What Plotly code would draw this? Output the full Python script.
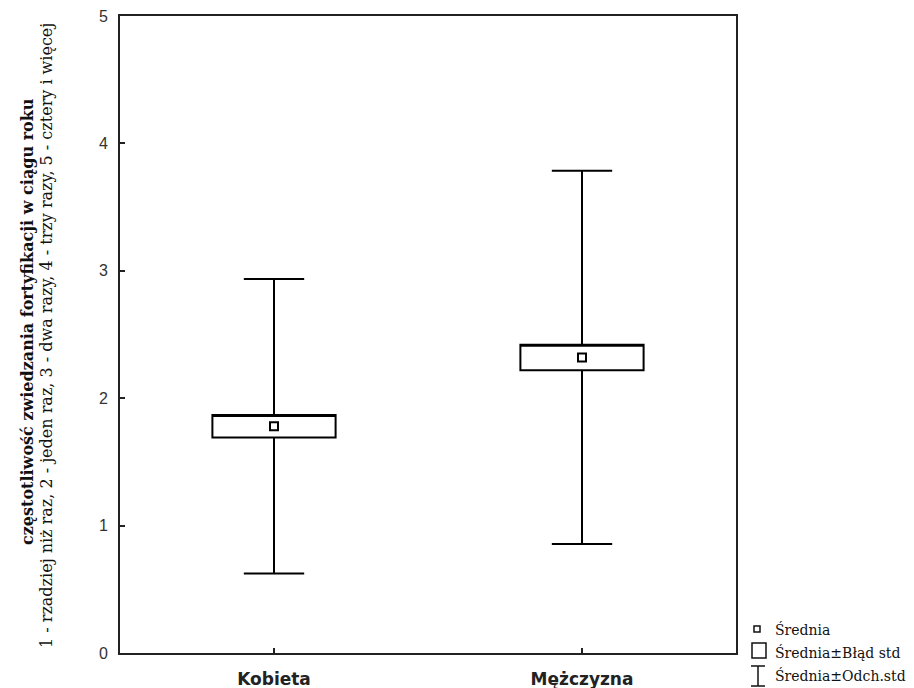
import plotly.graph_objects as go

categories = ["Kobieta", "Mężczyzna"]
means = [1.78, 2.32]
std_err = [0.088, 0.10]
std_dev = [1.155, 1.465]
y_ticks = [0, 1, 2, 3, 4, 5]

title_main = "częstotliwość zwiedzania fortyfikacji w ciągu roku"
title_sub = "1 - rzadziej niż raz, 2 - jeden raz, 3 - dwa razy, 4 - trzy razy, 5 - cztery i więcej"
legend_labels = ["Średnia", "Średnia±Błąd std", "Średnia±Odch.std"]

# page offset (browser body margin)
OFF = 8
W, H = 914 - OFF, 688 - OFF
# plot area in screen pixels
L, R, T, B = 120, 736, 16, 653


def px(x):
    return (x - L) / (R - L)


def py(y):
    return (B - y) / (B - T)


q1 = [m - s for m, s in zip(means, std_err)]
q3 = [m + s for m, s in zip(means, std_err)]
lo = [m - d for m, d in zip(means, std_dev)]
hi = [m + d for m, d in zip(means, std_dev)]

fig = go.Figure()
fig.add_trace(go.Box(
    x=categories, q1=q1, median=q3, q3=q3, lowerfence=lo, upperfence=hi,
    width=0.4, whiskerwidth=0.49, fillcolor="white",
    line=dict(color="black", width=2), boxpoints=False,
    hoverinfo="skip", showlegend=False,
))
fig.add_trace(go.Scatter(
    x=categories, y=means, mode="markers",
    marker=dict(symbol="square-open", size=8, color="black", line=dict(width=2)),
    hoverinfo="skip", showlegend=False,
))

fig.update_layout(
    width=W, height=H,
    margin=dict(l=L - OFF, r=W - (R - OFF), t=T - OFF, b=H - (B - OFF),
                autoexpand=False),
    plot_bgcolor="white", paper_bgcolor="white",
    showlegend=False,
)
fig.update_xaxes(
    type="category", range=[-0.5, 1.5], showgrid=False, automargin=False,
    showline=True, linecolor="#222", linewidth=2, mirror=True,
    ticks="inside", ticklen=5, tickcolor="#222", tickwidth=1.5,
    tickfont=dict(family="DejaVu Sans", size=17, color="#222"),
    ticklabelstandoff=10, ticklabeloverflow="allow",
    tickvals=categories, ticktext=[f"<b>{c}</b>" for c in categories],
)
fig.update_yaxes(
    range=[0, 5], showgrid=False, zeroline=False, automargin=False,
    showline=True, linecolor="#222", linewidth=2, mirror=True,
    ticks="inside", ticklen=5, tickcolor="#222", tickwidth=1.5,
    tickvals=y_ticks,
    tickfont=dict(family="Liberation Sans", size=16, color="#333"),
    ticklabelstandoff=7, ticklabeloverflow="allow",
)

# Y-axis title (two lines)
fig.add_annotation(
    text=f"<b>{title_main}</b>", textangle=-90, xref="paper", yref="paper",
    x=px(27), y=py(322), xanchor="center", yanchor="middle", showarrow=False,
    font=dict(family="DejaVu Serif", size=16, color="#111"),
)
fig.add_annotation(
    text=title_sub, textangle=-90, xref="paper", yref="paper",
    x=px(46), y=py(336), xanchor="center", yanchor="middle", showarrow=False,
    font=dict(family="DejaVu Serif", size=16, color="#111"),
)

# Manual legend
leg_y = [629, 652, 675]
for lab, yy in zip(legend_labels, leg_y):
    fig.add_annotation(
        text=lab, xref="paper", yref="paper", x=px(773), y=py(yy),
        xanchor="left", yanchor="middle", showarrow=False,
        font=dict(family="DejaVu Serif", size=14, color="#111"),
    )
line_style = dict(color="#111", width=1.5)
fig.add_shape(type="rect", xref="paper", yref="paper",
              x0=px(754), x1=px(760), y0=py(626), y1=py(632), line=line_style)
fig.add_shape(type="rect", xref="paper", yref="paper",
              x0=px(752), x1=px(766), y0=py(643), y1=py(658), line=line_style)
fig.add_shape(type="line", xref="paper", yref="paper",
              x0=px(751), x1=px(765), y0=py(666), y1=py(666), line=line_style)
fig.add_shape(type="line", xref="paper", yref="paper",
              x0=px(758), x1=px(758), y0=py(666), y1=py(686), line=line_style)
fig.add_shape(type="line", xref="paper", yref="paper",
              x0=px(751), x1=px(765), y0=py(686), y1=py(686), line=line_style)

fig.write_html("out.html")
